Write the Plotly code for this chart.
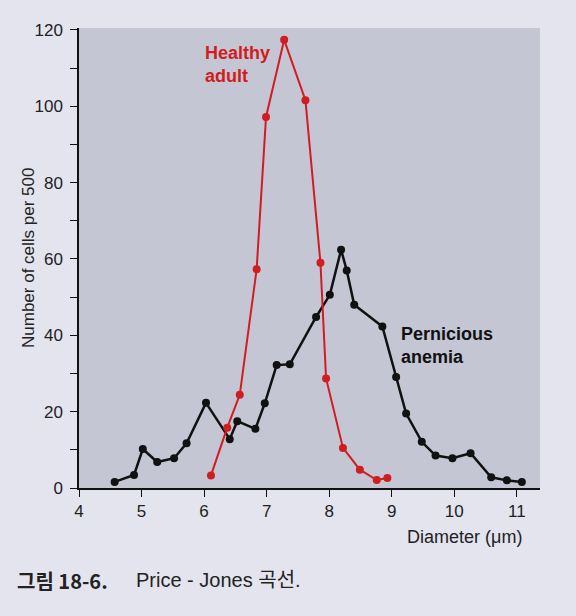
import plotly.graph_objects as go

# Pernicious anemia (black)
pa_diam = [4.57, 4.88, 5.02, 5.25, 5.52, 5.72, 6.03, 6.41, 6.53, 6.82, 6.97, 7.16, 7.37,
           7.79, 8.01, 8.19, 8.28, 8.40, 8.85, 9.07, 9.23, 9.48, 9.70, 9.97, 10.26,
           10.59, 10.84, 11.08]
pa_count = [1.6, 3.4, 10.2, 6.8, 7.8, 11.7, 22.3, 12.8, 17.5, 15.5, 22.2, 32.2, 32.4,
            44.8, 50.6, 62.4, 57.0, 48.0, 42.3, 29.1, 19.5, 12.1, 8.5, 7.8, 9.1,
            2.8, 2.0, 1.6]

# Healthy adult (red)
ha_diam = [6.11, 6.37, 6.57, 6.84, 6.99, 7.28, 7.62, 7.86, 7.95, 8.22, 8.49, 8.76, 8.93]
ha_count = [3.3, 15.8, 24.4, 57.3, 97.2, 117.4, 101.6, 59.0, 28.7, 10.5, 4.8, 2.1, 2.6]

x_ticks = [4, 5, 6, 7, 8, 9, 10, 11]
y_ticks = [0, 20, 40, 60, 80, 100, 120]

RED = "#d11c20"
BLACK = "#111111"
PAGE = "#e3e4ee"
FONT = "Liberation Sans, Arial, sans-serif"
BOLD = "Liberation Sans, Arial, sans-serif"

L, T, PW, PH = 79, 28, 461, 460


def px(xp):
    return (xp - L) / PW


def py(yp):
    return (T + PH - yp) / PH


fig = go.Figure()
fig.add_trace(go.Scatter(x=pa_diam, y=pa_count, mode="lines+markers",
                         line=dict(color=BLACK, width=2.5),
                         marker=dict(color=BLACK, size=8), cliponaxis=False,
                         showlegend=False))
fig.add_trace(go.Scatter(x=ha_diam, y=ha_count, mode="lines+markers",
                         line=dict(color=RED, width=2),
                         marker=dict(color=RED, size=8), cliponaxis=False,
                         showlegend=False))

axis_common = dict(ticks="outside", ticklen=7, tickwidth=1.2, tickcolor="#111",
                   showline=True, linecolor="#111", linewidth=1.5, showgrid=False,
                   zeroline=False, tickfont=dict(size=17, family=FONT, color="#222"))

fig.update_layout(
    width=576, height=616,
    margin=dict(l=L, r=576 - L - PW, t=T, b=616 - T - PH, autoexpand=False),
    paper_bgcolor=PAGE,
    plot_bgcolor="#c4c6d4",
    font=dict(family=FONT, color="#222222", size=16),
    xaxis=dict(range=[4, 11.37], tickvals=x_ticks, ticklabelstandoff=0, **axis_common),
    yaxis=dict(range=[0, 120.5], tickvals=y_ticks, ticklabelstandoff=4,
               minor=dict(dtick=10, ticks="outside", ticklen=7, tickwidth=1.2,
                          tickcolor="#111", showgrid=False),
               **axis_common),
)

fig.add_annotation(x=5.98, y=117.0, xref="x", yref="y", text="<b>Healthy<br>adult</b>",
                   showarrow=False, xanchor="left", yanchor="top", align="left",
                   font=dict(color=RED, size=18, family=BOLD))
fig.add_annotation(x=9.12, y=43.5, xref="x", yref="y", text="<b>Pernicious<br>anemia</b>",
                   showarrow=False, xanchor="left", yanchor="top", align="left",
                   font=dict(color=BLACK, size=18, family=BOLD))
fig.add_annotation(x=px(28), y=py(258), xref="paper", yref="paper",
                   text="Number of cells per 500", showarrow=False, textangle=-90,
                   xanchor="center", yanchor="middle", font=dict(size=17, family=FONT))
fig.add_annotation(x=px(524), y=py(537), xref="paper", yref="paper",
                   text="Diameter (μm)", showarrow=False, xanchor="right", yanchor="middle",
                   font=dict(size=18, family=FONT))
fig.add_annotation(x=px(15), y=py(580), xref="paper", yref="paper",
                   text="<b>그림 18-6.</b>", showarrow=False,
                   xanchor="left", yanchor="middle",
                   font=dict(size=20, family="Noto Sans CJK KR"))
fig.add_annotation(x=px(134), y=py(580), xref="paper", yref="paper",
                   text="Price - Jones 곡선.", showarrow=False,
                   xanchor="left", yanchor="middle",
                   font=dict(size=20, family="Liberation Sans, Noto Sans CJK KR"))

fig.write_html("out.html", config={"displayModeBar": False},
               post_script="document.body.style.margin='0';"
                           "document.body.style.background='%s';" % PAGE)
